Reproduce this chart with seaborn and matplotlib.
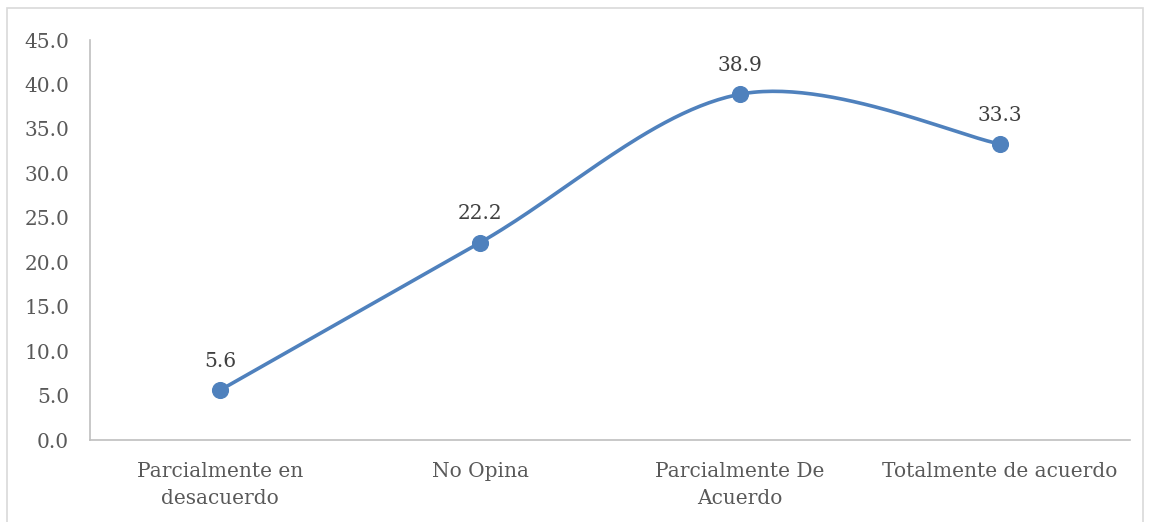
import numpy as np
import pandas as pd
import matplotlib
matplotlib.use("Agg")
import matplotlib.pyplot as plt
import seaborn as sns

# ── Data ──────────────────────────────────────────────────────────────────
categories = ["Parcialmente en\ndesacuerdo", "No Opina",
              "Parcialmente De\nAcuerdo", "Totalmente de acuerdo"]
values = [5.6, 22.2, 38.9, 33.3]
yticks = [0, 5, 10, 15, 20, 25, 30, 35, 40, 45]

BLUE = "#4F81BD"
TXT = "#595959"

sns.set_theme(style="white")
plt.rcParams["font.family"] = ["DejaVu Serif", "Liberation Serif"]


# Excel-like smoothed line (cubic Bezier through the points)
def smooth(xs, ys, n=60):
    pts = np.column_stack([xs, ys]).astype(float)
    out = []
    for i in range(len(pts) - 1):
        p0 = pts[i - 1] if i > 0 else pts[i]
        p1, p2 = pts[i], pts[i + 1]
        p3 = pts[i + 2] if i + 2 < len(pts) else pts[i + 1]
        c1 = p1 + (p2 - p0) / 6
        c2 = p2 - (p3 - p1) / 6
        t = np.linspace(0, 1, n)[:, None]
        seg = ((1 - t) ** 3) * p1 + 3 * ((1 - t) ** 2) * t * c1 \
            + 3 * (1 - t) * t ** 2 * c2 + t ** 3 * p2
        out.append(seg if i == 0 else seg[1:])
    return np.vstack(out)


x = np.arange(len(values))
curve = smooth(x, values)
df_curve = pd.DataFrame({"x": curve[:, 0], "y": curve[:, 1]})
df_pts = pd.DataFrame({"x": x, "y": values})

fig = plt.figure(figsize=(11.49, 5.22), dpi=100)
ax = fig.add_axes([90 / 1149, 1 - 440 / 522, 1040 / 1149, 400 / 522])

sns.lineplot(data=df_curve, x="x", y="y", ax=ax, color=BLUE, lw=2.6,
             sort=False, estimator=None)
sns.scatterplot(data=df_pts, x="x", y="y", ax=ax, color=BLUE, s=130,
                edgecolor=BLUE, zorder=3)

for xi, v in zip(x, values):
    ax.annotate(f"{v:.1f}", (xi, v), xytext=(0, 14), textcoords="offset points",
                ha="center", va="bottom", fontsize=14.5, color="#404040")

ax.set_xlim(-0.5, len(values) - 0.5)
ax.set_ylim(0, 45)
ax.set_xticks(x)
ax.set_xticklabels(categories, fontsize=14.5, color=TXT, linespacing=1.55)
ax.set_yticks(yticks)
ax.set_yticklabels([f"{t:.1f}" for t in yticks], fontsize=14.5, color=TXT)
ax.set_xlabel("")
ax.set_ylabel("")
ax.tick_params(axis="x", length=0, pad=16)
ax.tick_params(axis="y", length=0, pad=15)

for side in ["top", "right"]:
    ax.spines[side].set_visible(False)
for side in ["left", "bottom"]:
    ax.spines[side].set_color("#BFBFBF")
    ax.spines[side].set_linewidth(1.2)

# outer chart border
fig.add_artist(plt.Rectangle((7 / 1149, -0.01), 1136 / 1149, 1 - 8 / 522 + 0.01,
                             transform=fig.transFigure, fill=False,
                             edgecolor="#D9D9D9", lw=1.2))

fig.savefig("out.png", dpi=100)
